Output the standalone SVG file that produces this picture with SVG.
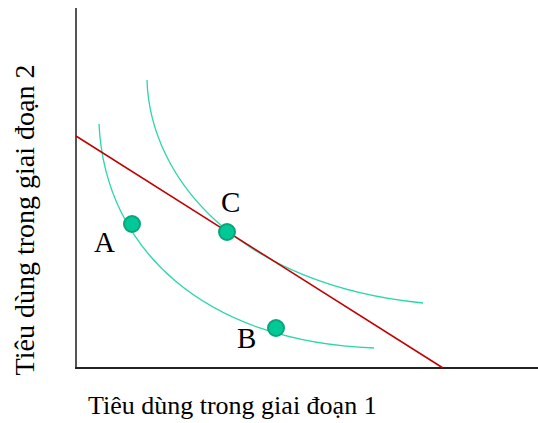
<svg xmlns="http://www.w3.org/2000/svg" width="538" height="423" viewBox="0 0 538 423">
<style>
.curve{fill:none;stroke:#2ad6aa;stroke-width:1.3}
.dot{fill:#00c896;stroke:#08a57a;stroke-width:2}
.lbl{font-family:"Liberation Serif","Times New Roman",serif;font-size:29px;fill:#000}
.ax{font-family:"Liberation Serif","Times New Roman",serif;fill:#000}
</style>
<rect width="538" height="423" fill="#fff"/>
<g id="axes">
<line x1="76" y1="8" x2="76" y2="369" stroke="#555" stroke-width="2"/>
<line x1="75" y1="368" x2="538" y2="368" stroke="#222" stroke-width="2"/>
</g>
<g id="connectors">
<path class="curve" d="M99,124 C105,250 205,342 374,348"/>
<path class="curve" d="M147,80 C150,180 240,285 423,303"/>
<line x1="76" y1="136" x2="443" y2="368" stroke="#c00000" stroke-width="1.5"/>
</g>
<g id="A"><circle class="dot" cx="132" cy="224" r="8"/><text class="lbl" x="94" y="252">A</text></g>
<g id="C"><circle class="dot" cx="227" cy="232" r="8"/><text class="lbl" x="221" y="212">C</text></g>
<g id="B"><circle class="dot" cx="276" cy="328" r="8"/><text class="lbl" x="237" y="348">B</text></g>
<g id="xlabel"><text class="ax" x="88" y="414" font-size="26">Tiêu dùng trong giai đoạn 1</text></g>
<g id="ylabel"><text class="ax" transform="translate(34,220) rotate(-90)" text-anchor="middle" font-size="28">Tiêu dùng trong giai đoạn 2</text></g>
</svg>
